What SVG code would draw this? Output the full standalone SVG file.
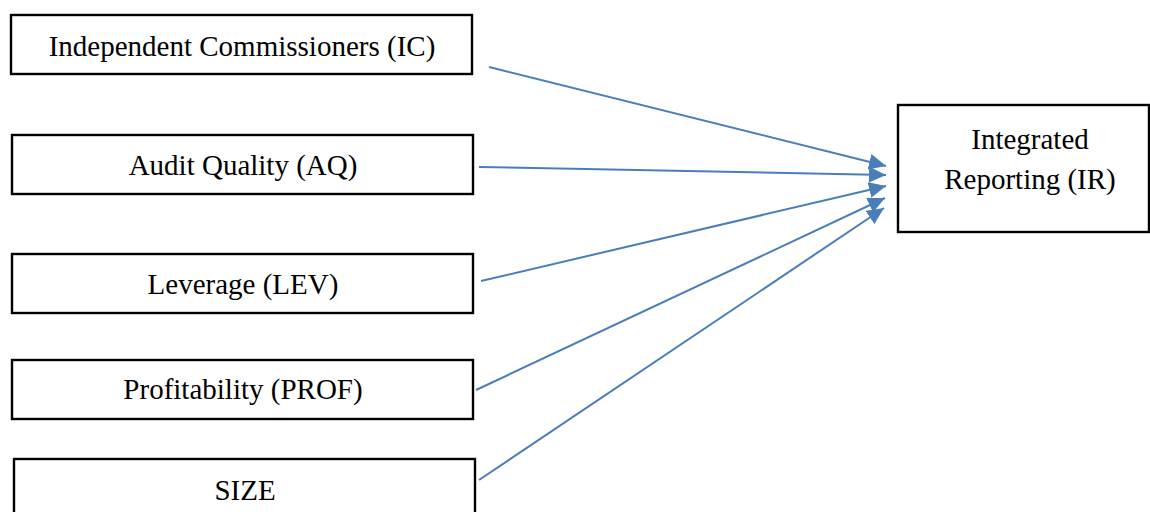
<svg xmlns="http://www.w3.org/2000/svg" width="1150" height="512" viewBox="0 0 1150 512">
<style>
.box{fill:#fff;stroke:#000;stroke-width:2.4}
.t{font-family:"Liberation Serif","Times New Roman",serif;font-size:29px;fill:#000;text-anchor:middle}
.c{stroke:#4A7EBB;stroke-width:2;fill:none;marker-end:url(#ah)}
</style>
<defs>
<marker id="ah" markerUnits="userSpaceOnUse" markerWidth="18" markerHeight="16" refX="17" refY="8" orient="auto">
<path d="M0,0 L17,8 L0,16 Z" fill="#4A7EBB"/>
</marker>
</defs>
<rect width="1150" height="512" fill="#fff"/>
<g id="IC"><rect class="box" x="11" y="15" width="461" height="59"/><text class="t" x="242" y="56">Independent Commissioners (IC)</text></g>
<g id="AQ"><rect class="box" x="12" y="135" width="461" height="59"/><text class="t" x="243" y="175">Audit Quality (AQ)</text></g>
<g id="LEV"><rect class="box" x="12" y="254" width="461" height="59"/><text class="t" x="243" y="294">Leverage (LEV)</text></g>
<g id="PROF"><rect class="box" x="12" y="360" width="461" height="59"/><text class="t" x="243" y="399">Profitability (PROF)</text></g>
<g id="SIZE"><rect class="box" x="14" y="459" width="461" height="70"/><text class="t" x="245" y="500">SIZE</text></g>
<g id="IR"><rect class="box" x="898" y="105" width="251" height="127"/><text class="t" x="1030" y="149">Integrated</text><text class="t" x="1030" y="189">Reporting (IR)</text></g>
<g id="connectors">
<line class="c" x1="489" y1="67" x2="886" y2="166"/>
<line class="c" x1="479" y1="167" x2="886" y2="175"/>
<line class="c" x1="481" y1="281" x2="886" y2="186"/>
<line class="c" x1="476" y1="390" x2="885" y2="198"/>
<line class="c" x1="479" y1="480" x2="884" y2="208"/>
</g>
</svg>
